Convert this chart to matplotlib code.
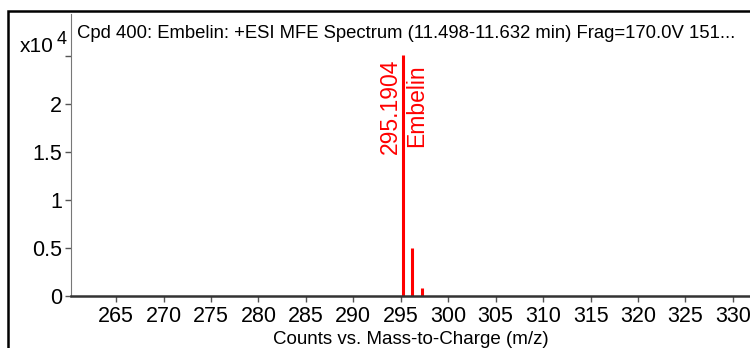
import matplotlib
matplotlib.use("Agg")
import matplotlib.pyplot as plt
from matplotlib.patches import Rectangle

# spectrum data (m/z, counts in units of 1e4)
mz = [295.1904, 296.19, 297.20]
counts = [2.51, 0.50, 0.083]
peak_mz = "295.1904"
peak_name = "Embelin"

x_ticks = list(range(265, 331, 5))
y_ticks = [0, 0.5, 1, 1.5, 2, 2.5]
y_labels = ["0", "0.5", "1", "1.5", "2", ""]

title = "Cpd 400: Embelin: +ESI MFE Spectrum (11.498-11.632 min) Frag=170.0V 151..."

plt.rcParams['font.family'] = ['Liberation Sans', 'DejaVu Sans']

fig = plt.figure(figsize=(7.5, 3.48), dpi=100)
# outer frame
fig.patches.append(Rectangle((8 / 750, -0.1), 2, 1 - 11 / 348 + 0.1,
                             transform=fig.transFigure, fill=False,
                             edgecolor='black', linewidth=1.8))

ax = fig.add_axes([71 / 750, 52 / 348, 1 - 71 / 750, (296 - 14) / 348])
ax.vlines(mz, 0, counts, color='red', linewidth=2.2)

ax.text(mz[0] - 0.05, counts[0] - 0.04, peak_mz, rotation=90, color='red',
        ha='right', va='top', fontsize=16.5)
ax.text(mz[0] + 0.3, counts[0] - 0.1, peak_name, rotation=90, color='red',
        ha='left', va='top', fontsize=16.5)

ax.set_xlim(260.25, 331.8)
ax.set_ylim(0, 2.94)
ax.set_xticks(x_ticks)
ax.set_yticks(y_ticks)
ax.set_yticklabels(y_labels)
ax.tick_params(labelsize=15.5, length=4.5, color='#555555', width=1)
ax.tick_params(axis='y', pad=2)
ax.tick_params(axis='x', pad=3)
for s in ['top', 'right']:
    ax.spines[s].set_visible(False)
ax.spines['left'].set_color('#777777')
ax.spines['bottom'].set_color('#333333')
ax.spines['bottom'].set_linewidth(1.8)

ax.set_xlabel("Counts vs. Mass-to-Charge (m/z)", fontsize=13.5)
ax.xaxis.set_label_coords((411 - 71) / (750 - 71), -(339 - 296) / 282)
ax.xaxis.label.set_va('center')
ax.text(0.009, 0.93, title, transform=ax.transAxes, fontsize=13.3,
        ha='left', va='center')
fig.text(20 / 750, 1 - 46 / 348, "x10", fontsize=15, ha='left', va='center')
fig.text(57 / 750, 1 - 40 / 348, "4", fontsize=13, ha='left', va='center')

fig.savefig("out.png", dpi=100)
